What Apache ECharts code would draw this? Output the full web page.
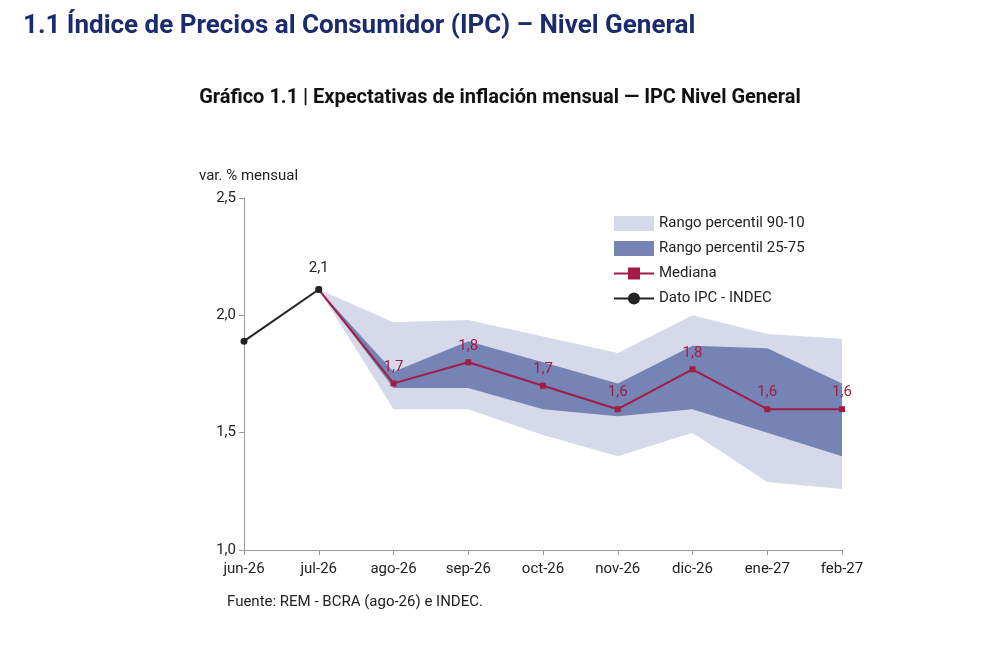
<!DOCTYPE html>
<html><head><meta charset="utf-8">
<script src="https://cdn.jsdelivr.net/npm/echarts@6/dist/echarts.min.js"></script>
<style>body{margin:0;background:#fff}#c{width:1000px;height:655px}</style>
</head><body><div id="c"></div>
<script>
const categories=['jun-26','jul-26','ago-26','sep-26','oct-26','nov-26','dic-26','ene-27','feb-27'];
const ipc=[1.89,2.11,null,null,null,null,null,null,null];
const mediana=[null,2.11,1.71,1.80,1.70,1.60,1.77,1.60,1.60];
const p90=[null,2.11,1.97,1.98,1.91,1.84,2.00,1.92,1.90];
const p10=[null,2.11,1.60,1.60,1.49,1.40,1.50,1.29,1.26];
const p75=[null,2.11,1.76,1.89,1.80,1.71,1.87,1.86,1.71];
const p25=[null,2.11,1.69,1.69,1.60,1.57,1.60,1.50,1.40];
const diff=(a,b)=>a.map((v,i)=>v==null?null:+(v-b[i]).toFixed(3));
const fmt=v=>v.toFixed(1).replace('.',',');
const chart=echarts.init(document.getElementById('c'));
const light='#d5d9ea', dark='#7583b5', red='#a31c44';
chart.setOption({
  animation:false,
  textStyle:{fontFamily:'Roboto'},
  title:[
    {text:'1.1 Índice de Precios al Consumidor (IPC) – Nivel General',left:18,top:8,textStyle:{color:'#1c2a6e',fontSize:26,fontWeight:'bold',fontFamily:'Roboto'}},
    {text:'Gráfico 1.1 | Expectativas de inflación mensual — IPC Nivel General',left:'center',top:83,textStyle:{color:'#111',fontSize:20,fontWeight:'bold'}},
    {text:'Fuente: REM - BCRA (ago-26) e INDEC.',left:222,top:590,textStyle:{color:'#222',fontSize:15,fontWeight:'normal'}}
  ],
  legend:{left:608,top:211,orient:'vertical',itemGap:10,itemWidth:40,itemHeight:15,
    textStyle:{fontSize:15,color:'#222'},
    data:[{name:'Rango percentil 90-10',icon:'rect'},{name:'Rango percentil 25-75',icon:'rect'},'Mediana','Dato IPC - INDEC']},
  grid:{left:244,right:158,top:198,bottom:105},
  xAxis:{type:'category',data:categories,boundaryGap:false,
    axisLine:{lineStyle:{color:'#999'}},axisTick:{lineStyle:{color:'#999'}},
    axisLabel:{color:'#222',fontSize:15,margin:12}},
  yAxis:{type:'value',min:1,max:2.5,interval:0.5,name:'var. % mensual',nameLocation:'end',
    nameGap:14,nameTextStyle:{align:'left',padding:[0,0,0,-45],color:'#222',fontSize:15},
    splitLine:{show:false},axisLine:{show:true,lineStyle:{color:'#999'}},axisTick:{show:true,lineStyle:{color:'#999'}},
    axisLabel:{formatter:v=>fmt(v),color:'#222',fontSize:15}},
  series:[
    {name:'b10',type:'line',stack:'a',data:p10,symbol:'none',lineStyle:{opacity:0},silent:true},
    {name:'Rango percentil 90-10',type:'line',stack:'a',data:diff(p90,p10),symbol:'none',lineStyle:{opacity:0},itemStyle:{color:light},areaStyle:{color:light,opacity:1}},
    {name:'b25',type:'line',stack:'b',data:p25,symbol:'none',lineStyle:{opacity:0},silent:true},
    {name:'Rango percentil 25-75',type:'line',stack:'b',data:diff(p75,p25),symbol:'none',lineStyle:{opacity:0},itemStyle:{color:dark},areaStyle:{color:dark,opacity:1}},
    {name:'Mediana',type:'line',data:mediana,symbol:'rect',symbolSize:6,itemStyle:{color:red},lineStyle:{color:red,width:2},
      label:{show:true,position:'top',distance:6,color:red,fontSize:15,formatter:p=>p.dataIndex<2?'':fmt(p.value)}},
    {name:'Dato IPC - INDEC',type:'line',data:ipc,symbol:'circle',symbolSize:7,itemStyle:{color:'#222'},lineStyle:{color:'#222',width:2},
      label:{show:true,position:'top',distance:10,color:'#222',fontSize:15,formatter:p=>p.dataIndex==1?fmt(p.value):''}}
  ]
});
</script></body></html>
